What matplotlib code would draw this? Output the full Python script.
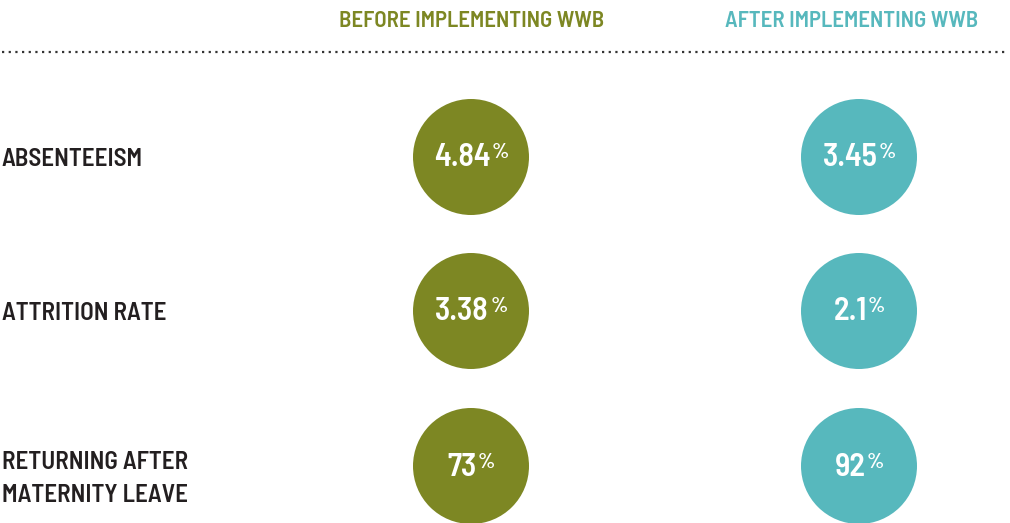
import matplotlib
matplotlib.use('Agg')
import matplotlib.pyplot as plt
from matplotlib.patches import Circle

labels = ["ABSENTEEISM", "ATTRITION RATE", "RETURNING AFTER\nMATERNITY LEAVE"]
before = ["4.84", "3.38", "73"]
after = ["3.45", "2.1", "92"]
headers = ["BEFORE IMPLEMENTING WWB", "AFTER IMPLEMENTING WWB"]

olive = '#7d8723'
teal = '#57b8bd'
dark = '#231f20'
plt.rcParams['font.family'] = ['Barlow Semi Condensed', 'DejaVu Sans']

fig = plt.figure(figsize=(10.10, 5.23), dpi=100)
ax = fig.add_axes([0, 0, 1, 1])
ax.set_xlim(0, 1010)
ax.set_ylim(523, 0)
ax.axis('off')

col_x = [471, 859]
head_x = [472, 852]
row_y = [157, 311, 466]
label_dy = [2, 2, 13]
colors = [olive, teal]

for hx, h, c in zip(head_x, headers, colors):
    ax.text(hx, 21, h, color=c, fontsize=16.4, fontweight='semibold', ha='center', va='center')
ax.plot([2, 1008], [52, 52], color='#333333', lw=1.6, ls=(0, (1, 2)))

for y, dy, lab in zip(row_y, label_dy, labels):
    ax.text(2, y + dy, lab, color=dark, fontsize=18, fontweight='semibold', ha='left', va='center',
            linespacing=1.6)

for cx, vals, c in zip(col_x, [before, after], colors):
    for y, v in zip(row_y, vals):
        ax.add_patch(Circle((cx, y), 58, color=c, lw=0))
        t = ax.text(cx - 9, y + 1, v, color='white', fontsize=23, fontweight='semibold',
                    ha='center', va='center')
        ax.annotate('%', xy=(1, 1), xycoords=t, xytext=(1, 0), textcoords='offset points',
                    color='white', fontsize=15.5, fontweight='semibold', ha='left', va='top')

fig.savefig("out.png")
